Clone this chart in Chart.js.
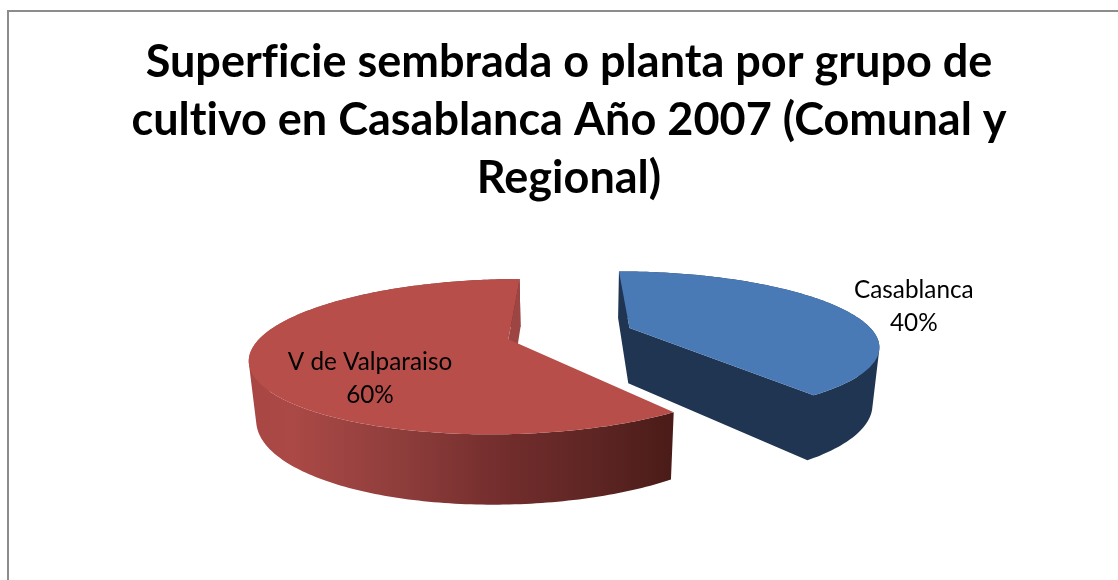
<!DOCTYPE html>
<html><head><meta charset="utf-8">
<style>
html,body{margin:0;padding:0;background:#fff;overflow:hidden}
#frame{position:absolute;left:7px;top:10px;right:0;bottom:0;border-left:2px solid #8c8c8c;border-top:2px solid #8c8c8c;pointer-events:none}
canvas{position:absolute;left:0;top:0}
</style>
<script src="https://cdn.jsdelivr.net/npm/chart.js@4"></script>
</head><body>
<canvas id="c" width="1118" height="580"></canvas>
<div id="frame"></div>
<script>
const titleLines = ["Superficie sembrada o planta por grupo de","cultivo en Casablanca Año 2007 (Comunal y","Regional)"];
const categories = ["Casablanca","V de Valparaiso"];
const values = [40,60];
const topColors = ["#4A7AB6","#B84E4A"];
const wallColors = ["#1F3552","#9C4543"];
const rimStops = [
  [null],
  [[0,"#A84643"],[0.1,"#AB4946"],[0.35,"#8F3E3C"],[0.6,"#722D2C"],[0.8,"#5F2624"],[1,"#4A1B18"]]
];
const labelPlace = [[1.33,3.2],[0.665,-27]];
const view = {cx:570,hy:10,ax:245,cy:323.5,dy:64.5,k:0.22,m:0.022,explode:0.26};

function project(X,Y,Z){
  const w=1+view.k*Y+view.m*Z;
  return [view.cx+view.ax*X/w, view.hy+(view.cy+view.dy*Z)/w];
}
function polar(a,r,o){
  const t=a+Math.PI/2;
  return [o[0]+r*Math.sin(t), o[1]+r*Math.cos(t)];
}
function area(q){
  let s=0;
  q.forEach((p,i)=>{const n=q[(i+1)%q.length];s+=p[0]*n[1]-n[0]*p[1];});
  return s;
}
function extrude(a,b){
  return [project(a[0],a[1],0),project(b[0],b[1],0),project(b[0],b[1],1),project(a[0],a[1],1)];
}
const pie3d={
  id:'pie3d',
  beforeDraw(chart){
    chart.ctx.letterSpacing='0.01px';
    chart.ctx.textRendering='optimizeSpeed';
  },
  beforeDatasetsDraw(chart){
    const ctx=chart.ctx, arcs=chart.getDatasetMeta(0).data;
    const slices=arcs.map((el,i)=>{
      const s=el.startAngle,e=el.endAngle,mid=(s+e)/2;
      const o=polar(mid,view.explode,[0,0]);
      const pts=[];const n=Math.ceil((e-s)/(Math.PI/180));
      for(let j=0;j<=n;j++)pts.push(polar(s+(e-s)*j/n,1,o));
      return {i,el,mid,o,pts};
    });
    const trace=list=>{
      list.forEach((p,j)=>j?ctx.lineTo(p[0],p[1]):ctx.moveTo(p[0],p[1]));
      ctx.closePath();
    };
    // Union of quads: same winding everywhere, so folds do not cancel out.
    const fillQuads=(quads,fill)=>{
      ctx.beginPath();
      quads.forEach(q=>trace(area(q)<0?q.slice().reverse():q));
      ctx.fillStyle=fill;ctx.fill('nonzero');
    };
    slices.forEach(sl=>{
      const {i,o,pts}=sl;
      const first=pts[0],last=pts[pts.length-1];
      const radial=[];
      const qs=extrude(o,first), qe=extrude(o,last);
      if(area(qs)<0)radial.push(qs);
      if(area(qe)>0)radial.push(qe);
      const rim=[];
      for(let j=0;j<pts.length-1;j++)rim.push(extrude(pts[j],pts[j+1]));
      if(rimStops[i][0]){
        const xs=rim.flat().map(p=>p[0]);
        const g=ctx.createLinearGradient(Math.min(...xs),0,Math.max(...xs),0);
        rimStops[i].forEach(st=>g.addColorStop(st[0],st[1]));
        fillQuads(rim,g);
        fillQuads(radial,wallColors[i]);
      } else {
        fillQuads(rim.concat(radial),wallColors[i]);
      }
      ctx.beginPath();
      trace([project(o[0],o[1],0)].concat(pts.map(p=>project(p[0],p[1],0))));
      ctx.fillStyle=sl.el.options.backgroundColor;ctx.fill();
    });
    ctx.fillStyle="#000";ctx.textAlign="center";ctx.textBaseline="middle";
    ctx.font='24.3px Lato';
    const total=values.reduce((a,b)=>a+b,0);
    slices.forEach(sl=>{
      const pl=labelPlace[sl.i];
      const p=polar(sl.mid+pl[1]*Math.PI/180,pl[0],sl.o);
      const q=project(p[0],p[1],0);
      ctx.fillText(categories[sl.i],q[0],q[1]-16);
      ctx.fillText(Math.round(values[sl.i]/total*100)+"%",q[0],q[1]+17);
    });
    return false;
  }
};
new Chart(document.getElementById('c'),{
  type:'pie',
  data:{labels:categories,datasets:[{data:values,backgroundColor:topColors,borderWidth:0}]},
  options:{
    responsive:false,animation:false,
    layout:{padding:{left:20}},
    plugins:{
      legend:{display:false},tooltip:{enabled:false},
      title:{display:true,fullSize:false,text:titleLines,color:"#000",
        font:{family:"Lato",size:45,weight:"bold",lineHeight:1.29},
        padding:{top:33,bottom:10}}
    }
  },
  plugins:[pie3d]
});
</script>
</body></html>
